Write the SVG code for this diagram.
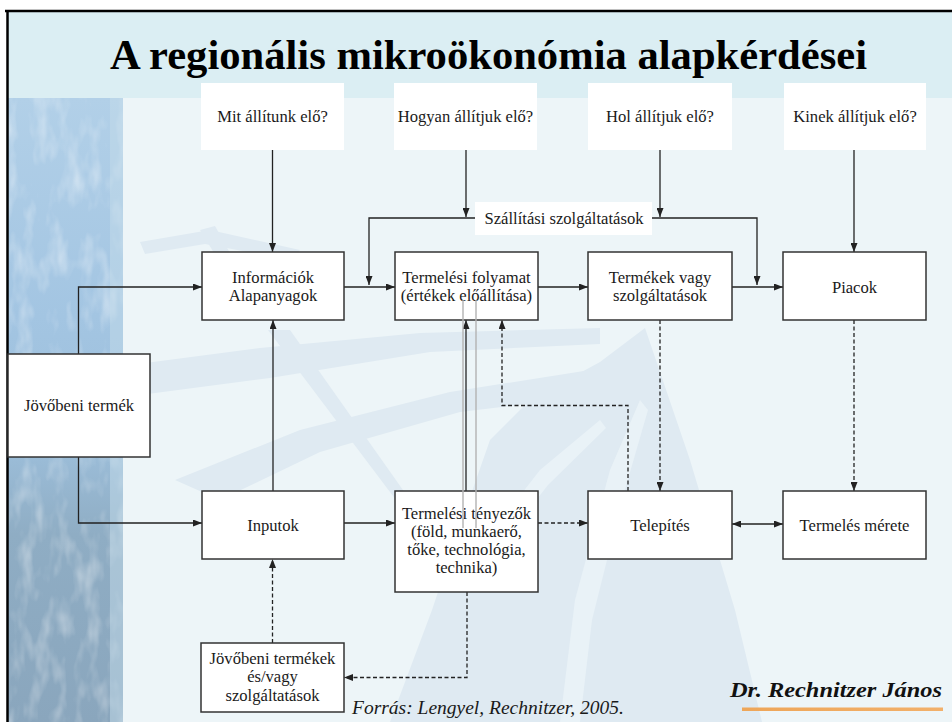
<svg xmlns="http://www.w3.org/2000/svg" width="952" height="722" viewBox="0 0 952 722">
<style>
.box{fill:#ffffff;stroke:#333333;stroke-width:1.5}
.qbox{fill:#ffffff;stroke:none}
.serif{font-family:"Liberation Serif","Tinos","Times New Roman","DejaVu Serif",serif}
.t{font-family:"Liberation Serif","Tinos","Times New Roman","DejaVu Serif",serif;font-size:16.6px;fill:#1a1a1a;text-anchor:middle}
.ln{fill:none;stroke:#222222;stroke-width:1.3}
.dash{fill:none;stroke:#222222;stroke-width:1.3;stroke-dasharray:4 2.5}
.ghost{fill:none;stroke:#b3b3b3;stroke-width:1.4}
.bg{fill:#dfeaf2}
.lt{fill:#e9f2f7}
</style>
<defs>
<marker id="arr" viewBox="0 0 9 7" refX="9" refY="3.5" markerWidth="9" markerHeight="7" markerUnits="userSpaceOnUse" orient="auto-start-reverse">
<path d="M0,0 L9,3.5 L0,7 z" fill="#222222"/>
</marker>
<linearGradient id="strip" x1="0" y1="0" x2="0" y2="1">
<stop offset="0" stop-color="#b2d0e8"/>
<stop offset="0.35" stop-color="#a3c5e2"/>
<stop offset="0.55" stop-color="#9dbfdb"/>
<stop offset="0.7" stop-color="#8fadc4"/>
<stop offset="1" stop-color="#8aa6bd"/>
</linearGradient>
<filter id="tex" x="0" y="0" width="100%" height="100%">
<feTurbulence type="fractalNoise" baseFrequency="0.06 0.025" numOctaves="3" seed="7"/>
<feColorMatrix type="matrix" values="0 0 0 0 1  0 0 0 0 1  0 0 0 0 1  0 0 0 1.6 -0.75"/>
</filter>
<linearGradient id="orange" x1="0" y1="0" x2="1" y2="0">
<stop offset="0" stop-color="#eea659"/>
<stop offset="1" stop-color="#f2b06a"/>
</linearGradient>
</defs>

<!-- background -->
<rect x="0" y="0" width="952" height="722" fill="#ffffff"/>
<rect x="8" y="11" width="944" height="711" fill="#edf5f8"/>
<rect x="8" y="11" width="944" height="87" fill="#dbeef3"/>
<g id="tree">
<polygon class="bg" points="390,722 432,610 462,520 490,440 530,400 600,362 645,328 690,460 735,610 762,722"/>
<polygon class="lt" points="560,722 575,600 610,470 640,400 648,410 622,500 592,620 580,722"/>
<polygon class="lt" points="470,560 540,470 600,420 606,428 548,485 480,572"/>
<polygon class="bg" points="130,365 260,348 420,333 600,328 600,344 430,352 270,378 140,395"/>
<polygon class="bg" points="175,480 300,430 450,392 590,370 560,400 460,412 320,452 220,500"/>
<polygon class="bg" points="268,330 290,330 410,500 396,500"/>
<polygon class="bg" points="140,242 210,230 300,250 292,260 205,244 145,254"/>
<polygon class="bg" points="200,230 215,226 235,262 222,266"/>
</g>
<rect x="8" y="98" width="115" height="624" fill="url(#strip)"/>
<rect x="8" y="98" width="115" height="624" filter="url(#tex)" opacity="0.55"/>
<rect x="110" y="98" width="13" height="624" fill="#c3dbe9" opacity="0.5"/>
<line x1="5" y1="11" x2="952" y2="11" stroke="#000000" stroke-width="2.5"/>
<line x1="7.5" y1="10" x2="7.5" y2="722" stroke="#000000" stroke-width="2.5"/>

<text class="serif" x="110" y="69" font-size="42" font-weight="bold" fill="#000000" textLength="757" lengthAdjust="spacingAndGlyphs">A regionális mikroökonómia alapkérdései</text>

<!-- question nodes -->
<g id="q1"><rect class="qbox" x="201" y="83" width="143" height="67"/><text class="t" x="272.5" y="122">Mit állítunk elő?</text></g>
<g id="q2"><rect class="qbox" x="394" y="83" width="143" height="67"/><text class="t" x="465.5" y="122">Hogyan állítjuk elő?</text></g>
<g id="q3"><rect class="qbox" x="588" y="83" width="144" height="67"/><text class="t" x="660" y="122">Hol állítjuk elő?</text></g>
<g id="q4"><rect class="qbox" x="784" y="83" width="142" height="67"/><text class="t" x="855" y="122">Kinek állítjuk elő?</text></g>

<!-- connectors -->
<g id="connectors">
<path class="ln" d="M272.5,150 V252" marker-end="url(#arr)"/>
<path class="ln" d="M466,150 V217" marker-end="url(#arr)"/>
<path class="ln" d="M660,150 V217" marker-end="url(#arr)"/>
<path class="ln" d="M854,150 V252" marker-end="url(#arr)"/>
<path class="ln" d="M475,218 H369 V285" marker-end="url(#arr)"/>
<path class="ln" d="M652,218 H757 V285" marker-end="url(#arr)"/>
<path class="ln" d="M344,287 H395" marker-end="url(#arr)"/>
<path class="ln" d="M538,287 H588" marker-end="url(#arr)"/>
<path class="ln" d="M732,287 H783" marker-end="url(#arr)"/>
<path class="ln" d="M78.5,354 V287 H202" marker-end="url(#arr)"/>
<path class="ln" d="M78.5,457 V523 H202" marker-end="url(#arr)"/>
<path class="ln" d="M273,491 V320" marker-end="url(#arr)"/>
<path class="ln" d="M344,523 H395" marker-end="url(#arr)"/>
<path class="ln" d="M466,491 V320" marker-end="url(#arr)"/>
<path class="ln" d="M732,524 H783" marker-start="url(#arr)" marker-end="url(#arr)"/>
<path class="dash" d="M538,523 H588" marker-end="url(#arr)"/>
<path class="dash" d="M660,320 V491" marker-end="url(#arr)"/>
<path class="dash" d="M854,320 V491" marker-end="url(#arr)"/>
<path class="dash" d="M628,491 V405.5 H502 V320" marker-end="url(#arr)"/>
<path class="dash" d="M467,592 V677.5 H344" marker-end="url(#arr)"/>
<path class="dash" d="M272.5,643 V559" marker-end="url(#arr)"/>
</g>

<!-- label node -->
<g id="szallitas"><rect class="qbox" x="475" y="202" width="177" height="33"/><text class="t" x="564" y="224">Szállítási szolgáltatások</text></g>

<!-- main nodes -->
<g id="informaciok"><rect class="box" x="202" y="252" width="142" height="68"/><text class="t" x="273" y="283">Információk</text><text class="t" x="273" y="301">Alapanyagok</text></g>
<g id="folyamat"><rect class="box" x="395" y="252" width="143" height="68"/><text class="t" x="466.5" y="283">Termelési folyamat</text><text class="t" x="466.5" y="301">(értékek előállítása)</text></g>
<g id="termekek"><rect class="box" x="588" y="252" width="144" height="68"/><text class="t" x="660" y="283">Termékek vagy</text><text class="t" x="660" y="301">szolgáltatások</text></g>
<g id="piacok"><rect class="box" x="783" y="252" width="143" height="68"/><text class="t" x="854.5" y="293">Piacok</text></g>
<g id="jovobeni"><rect class="box" x="8" y="354" width="142" height="103"/><text class="t" x="79" y="411">Jövőbeni termék</text></g>
<g id="inputok"><rect class="box" x="202" y="491" width="142" height="68"/><text class="t" x="273" y="531">Inputok</text></g>
<g id="tenyezok"><rect class="box" x="395" y="491" width="143" height="101"/><text class="t" x="466.5" y="519">Termelési tényezők</text><text class="t" x="466.5" y="537">(föld, munkaerő,</text><text class="t" x="466.5" y="555">tőke, technológia,</text><text class="t" x="466.5" y="573">technika)</text></g>
<g id="telepites"><rect class="box" x="588" y="491" width="144" height="68"/><text class="t" x="660" y="531">Telepítés</text></g>
<g id="merete"><rect class="box" x="783" y="491" width="143" height="68"/><text class="t" x="854.5" y="531">Termelés mérete</text></g>
<g id="jovobeni2"><rect class="box" x="201" y="643" width="143" height="69"/><text class="t" x="272.5" y="664">Jövőbeni termékek</text><text class="t" x="272.5" y="682">és/vagy</text><text class="t" x="272.5" y="701">szolgáltatások</text></g>

<!-- ghost lines through folyamat -->
<path class="ghost" d="M463,300 V528 M476,300 V528"/>

<text class="serif" x="352" y="714" font-size="19.5" font-style="italic" fill="#1a1a1a">Forrás: Lengyel, Rechnitzer, 2005.</text>
<text class="serif" x="730" y="697" font-size="21" font-style="italic" font-weight="bold" fill="#111111" textLength="212" lengthAdjust="spacingAndGlyphs">Dr. Rechnitzer János</text>
<rect x="742" y="707.5" width="201" height="3.5" fill="url(#orange)"/>
</svg>
